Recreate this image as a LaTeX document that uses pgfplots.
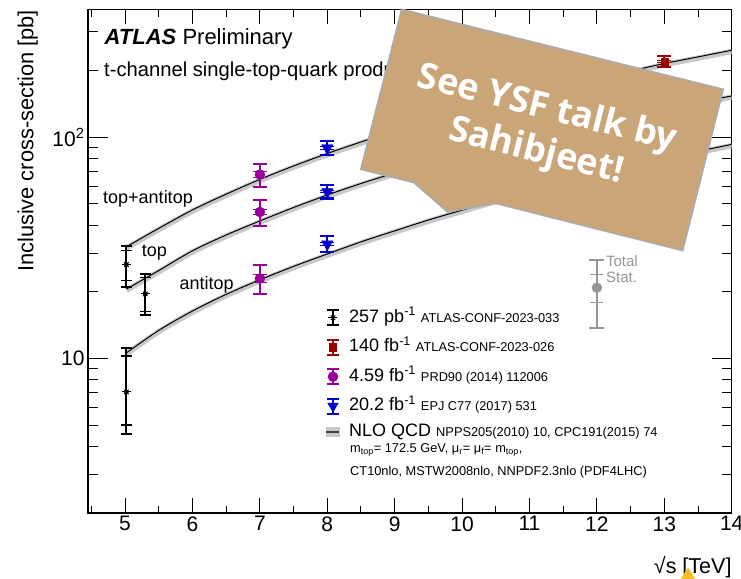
\documentclass[border=0pt]{standalone}
\usepackage{pgfplots}
\usepackage{pgfplotstable}
\pgfplotsset{compat=1.18}
\usepackage{fontspec}
\setmainfont{Liberation Sans}
\newfontfamily\bannerfont{Open Sans}

\newcommand{\fs}[2]{\fontsize{#1bp}{#2bp}\selectfont}

\definecolor{atlasred}{RGB}{153,0,0}
\definecolor{atlaspurple}{RGB}{153,0,153}
\definecolor{atlasblue}{RGB}{0,0,210}
\definecolor{keygray}{RGB}{150,150,150}
\definecolor{bandgray}{RGB}{200,200,200}
\definecolor{bannertan}{RGB}{201,165,120}
\definecolor{bannerrim}{RGB}{170,172,176}
\definecolor{logoyellow}{RGB}{244,190,40}

% NLO QCD predictions (pb)
\pgfplotstableread{
x     tt     t      tb
5.02  32.0   20.6   10.6
5.5   38.8   25.0   13.4
6     47.0   30.7   16.4
6.5   55.4   36.2   19.5
7     64.6   41.9   22.7
7.5   74.3   48.2   26.1
8     84.6   54.9   29.7
8.5   95.4   61.9   33.7
9     107.0  69.1   37.8
9.5   118.9  76.6   42.3
10    131.0  84.4   46.9
10.5  143.9  92.5   51.9
11    157.0  100.7  57.0
11.5  170.8  109.2  62.4
12    185.0  117.8  68.0
12.5  199.7  126.6  73.9
13    216.0  135.5  79.9
13.5  231.4  144.5  86.5
14    248.0  154.0  93.0
}\nlo

% measurements: value, total (tp/tm) and statistical (sp/sm) uncertainties
\pgfplotstableread{
x     y      tp     tm     sp     sm
5.02  26.6   5.8    5.5    4.2    4.1
5.30  19.6   4.4    3.9    3.7    3.3
5.02  7.06   4.14   2.49   3.20   2.06
}\lowe
\pgfplotstableread{
x     y      tp     tm     sp     sm
13    221    13     13     2      2
}\runtwo
\pgfplotstableread{
x     y      tp     tm     sp     sm
7     68     8.2    8.2    2      2
7     46     6.1    6.1    1      1
7     23     3.5    3.5    1      1
}\seven
\pgfplotstableread{
x     y      tp     tm     sp     sm
8     89.6   7.1    6.3    1.2    1.2
8     56.7   4.3    3.8    0.6    0.6
8     32.9   3.0    2.7    0.5    0.5
}\eight
\pgfplotstableread{
x     y      tp     tm     sp     sm
12    20.9   7.0    7.1    3.0    3.0
}\keypoint

\pgfplotsset{
  % total uncertainty: colour, bar width, cap half-width
  totbar/.style n args={3}{forget plot, only marks, mark=none, #1,
    /pgfplots/error bars/y dir=both, /pgfplots/error bars/y explicit,
    /pgfplots/error bars/error bar style={line width=#2},
    /pgfplots/error bars/error mark options={rotate=90, line width=#2, mark size=#3}},
  % statistical uncertainty: bar width, tick width, tick half-width
  statbar/.style n args={3}{forget plot, only marks,
    /pgfplots/error bars/y dir=both, /pgfplots/error bars/y explicit,
    /pgfplots/error bars/error bar style={line width=#1},
    /pgfplots/error bars/error mark options={rotate=90, line width=#2, mark size=#3}},
  errkey/.style={legend image code/.code={%
      \draw[##1, mark=none, line width=1.8bp] (6.5bp,-7.5bp) -- (6.5bp,7.5bp)
         (0.5bp,-7.5bp) -- (12.5bp,-7.5bp) (0.5bp,7.5bp) -- (12.5bp,7.5bp);
      \draw[##1, only marks] plot coordinates {(6.5bp,0bp)};}},
  starkey/.style={legend image code/.code={%
      \draw[black, line width=1.8bp] (6.5bp,-7.5bp) -- (6.5bp,7.5bp)
         (0.5bp,-7.5bp) -- (12.5bp,-7.5bp) (0.5bp,7.5bp) -- (12.5bp,7.5bp);
      \draw[black, only marks, mark=+, mark size=4.5bp, mark options={line width=0.9bp}]
         plot coordinates {(6.5bp,0bp)};
      \draw[black, only marks, mark=x, mark size=3.2bp, mark options={line width=0.9bp}]
         plot coordinates {(6.5bp,0bp)};}},
  bandkey/.style={legend image code/.code={%
      \fill[bandgray] (0bp,-0.5bp) rectangle (13bp,8.5bp);
      \draw[black!75, line width=1.5bp] (0bp,4bp) -- (13bp,4bp);}},
}

\begin{document}
\begin{tikzpicture}
\useasboundingbox (-88bp,-66bp) rectangle (653bp,513bp);
\begin{axis}[
  at={(0bp,0bp)}, anchor=south west,
  scale only axis, width=643.7bp, height=503.7bp,
  xmin=4.45, xmax=14, ymin=2, ymax=380, ymode=log,
  xtick={5,...,14}, minor xtick={4.5,5.5,...,13.5},
  ytick={10,100}, yticklabels={10,10\textsuperscript{2}\hspace{7bp}},
  minor ytick={2,3,4,5,6,7,8,9,20,30,40,50,60,70,80,90,200,300},
  tick align=inside,
  major tick length=20bp, minor tick length=10bp,
  every major x tick/.append style={/pgfplots/major tick length=15bp},
  every minor x tick/.append style={/pgfplots/minor tick length=7.5bp},
  tick style={black, line width=1bp},
  axis line style={line width=1.2bp},
  ticklabel style={font=\fs{21}{25}},
  /pgf/number format/assume math mode=true,
  legend style={at={(0.369,0.405)}, anchor=north west, draw=none, fill=none,
    inner sep=0pt, row sep=12.5bp, font=\fs{18}{21},
    nodes={inner sep=0pt, text height=13bp, text depth=4bp},
    /tikz/every odd column/.append style={column sep=9bp}},
  legend cell align=left,
]

% theory bands and central curves
\addplot[forget plot, bandgray, line width=5.5bp, smooth, yshift=-1.2bp] table[x=x,y=tt] \nlo;
\addplot[forget plot, bandgray, line width=5.5bp, smooth, yshift=-1.2bp] table[x=x,y=t] \nlo;
\addplot[forget plot, bandgray, line width=5.5bp, smooth, yshift=-1.2bp] table[x=x,y=tb] \nlo;
\addplot[forget plot, black, line width=1bp, smooth] table[x=x,y=tt] \nlo;
\addplot[forget plot, black, line width=1bp, smooth] table[x=x,y=t] \nlo;
\addplot[forget plot, black, line width=1bp, smooth] table[x=x,y=tb] \nlo;

% 5.02 TeV (star marker built from + and x)
\addplot[totbar={black}{2bp}{5.5bp}]
  table[x=x, y=y, y error plus=tp, y error minus=tm] \lowe;
\addplot[statbar={1.3bp}{1.1bp}{5.5bp}, black, mark=+, mark size=4.5bp, mark options={line width=0.9bp}]
  table[x=x, y=y, y error plus=sp, y error minus=sm] \lowe;
\addplot[forget plot, only marks, black, mark=x, mark size=3.2bp, mark options={line width=0.9bp}]
  table[x=x, y=y] \lowe;

% 13 TeV
\addplot[totbar={atlasred}{2.2bp}{7bp}] table[x=x, y=y, y error plus=tp, y error minus=tm] \runtwo;
\addplot[statbar={1bp}{1bp}{7bp}, atlasred, mark=square*, mark size=3.6bp]
  table[x=x, y=y, y error plus=sp, y error minus=sm] \runtwo;

% 7 TeV
\addplot[totbar={atlaspurple}{2bp}{7bp}] table[x=x, y=y, y error plus=tp, y error minus=tm] \seven;
\addplot[statbar={1bp}{1bp}{7bp}, atlaspurple, mark=*, mark size=5bp]
  table[x=x, y=y, y error plus=sp, y error minus=sm] \seven;

% 8 TeV
\addplot[totbar={atlasblue}{2.2bp}{7bp}] table[x=x, y=y, y error plus=tp, y error minus=tm] \eight;
\addplot[statbar={1bp}{1bp}{7bp}, atlasblue, mark=triangle*, mark size=6.5bp, mark options={rotate=180}]
  table[x=x, y=y, y error plus=sp, y error minus=sm] \eight;

% uncertainty key
\addplot[totbar={keygray}{2bp}{7.5bp}] table[x=x, y=y, y error plus=tp, y error minus=tm] \keypoint;
\addplot[statbar={2bp}{1.2bp}{6.5bp}, keygray, mark=*, mark size=5bp]
  table[x=x, y=y, y error plus=sp, y error minus=sm] \keypoint;
\node[keygray, anchor=west, font=\fs{15}{17}, inner sep=0pt] at (axis cs:12,27.9) [xshift=9bp, yshift=-1bp] {Total};
\node[keygray, anchor=west, font=\fs{15}{17}, inner sep=0pt] at (axis cs:12,23.9) [xshift=9bp, yshift=-2bp] {Stat.};

% legend
\addlegendimage{starkey}
\addlegendentry{257 pb\textsuperscript{-1} {\fs{12.8}{15}ATLAS-CONF-2023-033}}
\addlegendimage{errkey, atlasred, mark=square*, mark size=3.6bp}
\addlegendentry{140 fb\textsuperscript{-1} {\fs{12.8}{15}ATLAS-CONF-2023-026}}
\addlegendimage{errkey, atlaspurple, mark=*, mark size=5bp}
\addlegendentry{4.59 fb\textsuperscript{-1} {\fs{12.8}{15}PRD90 (2014) 112006}}
\addlegendimage{errkey, atlasblue, mark=triangle*, mark size=6bp, mark options={rotate=180}}
\addlegendentry{20.2 fb\textsuperscript{-1} {\fs{12.8}{15}EPJ C77 (2017) 531}}
\addlegendimage{bandkey}
\addlegendentry{\raisebox{4bp}{NLO QCD {\fs{12.8}{15}NPPS205(2010) 10, CPC191(2015) 74}}}
\end{axis}

% titles and labels
\node[anchor=base west, inner sep=0pt, font=\fs{22}{26}] at (16.5bp,468bp) {{\bfseries\itshape ATLAS} Preliminary};
\node[anchor=base west, inner sep=0pt, font=\fs{20.2}{24}] at (16bp,436.5bp) {t-channel single-top-quark production};
\node[anchor=base west, inner sep=0pt, font=\fs{18}{21}] at (15bp,309bp) {top+antitop};
\node[anchor=base west, inner sep=0pt, font=\fs{18}{21}] at (53.7bp,256.3bp) {top};
\node[anchor=base west, inner sep=0pt, font=\fs{18}{21}] at (91.5bp,223bp) {antitop};
\node[anchor=base west, inner sep=0pt, font=\fs{12.8}{15}] at (262bp,60.5bp)
  {m\textsubscript{top}= 172.5 GeV, μ\textsubscript{r}= μ\textsubscript{f}= m\textsubscript{top},};
\node[anchor=base west, inner sep=0pt, font=\fs{12.8}{15}] at (262bp,38bp)
  {CT10nlo, MSTW2008nlo, NNPDF2.3nlo (PDF4LHC)};
\node[anchor=base east, rotate=90, inner sep=0pt, font=\fs{21.8}{26}] at (-54.7bp,503bp) {Inclusive cross-section [pb]};
\node[anchor=base east, inner sep=0pt, font=\fs{21.5}{26}] at (643.7bp,-60.5bp) {√s [TeV]};

% small logo corner
\fill[logoyellow] (593bp,-66bp) -- (600bp,-54bp) -- (607bp,-66bp) -- cycle;

% announcement banner
\filldraw[fill=bannertan, draw=bannerrim, line width=1.5bp]
  (313.7bp,503.7bp) -- (635.3bp,423.7bp) -- (594.7bp,262.3bp) -- (407bp,309.7bp)
  -- (359.5bp,301bp) -- (326bp,330.3bp) -- (272.7bp,343.7bp) -- cycle;
\node[rotate=-14, white, align=center, inner sep=0pt, font=\bannerfont\bfseries\fs{36}{44}]
  at (453.6bp,382bp) {See YSF talk by\\Sahibjeet!};
\end{tikzpicture}
\end{document}
